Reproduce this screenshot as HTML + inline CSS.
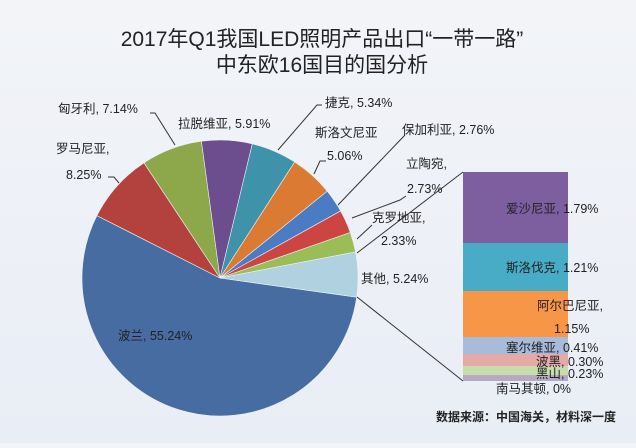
<!DOCTYPE html>
<html><head><meta charset="utf-8"><style>
html,body{margin:0;padding:0}
body{width:636px;height:443px;overflow:hidden;background:linear-gradient(180deg,#f2f4f8,#e9edf5);font-family:"Liberation Sans","Noto Sans CJK SC",sans-serif}
svg text{font-family:"Liberation Sans","Noto Sans CJK SC",sans-serif;fill:#222}
</style></head><body>
<svg id="s" width="636" height="443" xmlns="http://www.w3.org/2000/svg">
<text x="322" y="46" font-size="21" text-anchor="middle">2017年Q1我国LED照明产品出口“一带一路”</text>
<text x="322" y="72" font-size="21" text-anchor="middle">中东欧16国目的国分析</text>
<g id="pie"></g>
<g stroke="#333" stroke-width="1" fill="none">
<polyline points="150,113 155,113 175,145"/>
<polyline points="108,177 114,177 119,183"/>
<polyline points="322,105 317,105 278,150"/>
<polyline points="326,161 320,161 314,174"/>
<polyline points="338,205 405,135"/>
<polyline points="352,218 400,200 406,196"/>
<polyline points="357,239 372,225"/>
<polyline points="357,253 463,172"/>
<polyline points="357,297 463,381"/>
</g>
<rect x="463" y="172" width="105" height="71" fill="#7d5fa0"/>
<rect x="463" y="243" width="105" height="48" fill="#49acc6"/>
<rect x="463" y="291" width="105" height="46" fill="#f79646"/>
<rect x="463" y="337" width="105" height="17" fill="#a8bbda"/>
<rect x="463" y="354" width="105" height="12" fill="#e4aaa8"/>
<rect x="463" y="366" width="105" height="9" fill="#c8dcac"/>
<rect x="463" y="375" width="105" height="6" fill="#b4aac4"/>
<g font-size="12.5">
<text x="58" y="113">匈牙利, 7.14%</text>
<text x="178" y="128">拉脱维亚, 5.91%</text>
<text x="325" y="107">捷克, 5.34%</text>
<text x="315" y="137">斯洛文尼亚</text>
<text x="327" y="160">5.06%</text>
<text x="402" y="134">保加利亚, 2.76%</text>
<text x="406" y="168">立陶宛,</text>
<text x="407" y="193">2.73%</text>
<text x="372" y="222">克罗地亚,</text>
<text x="381" y="245">2.33%</text>
<text x="361" y="283">其他, 5.24%</text>
<text x="56" y="153">罗马尼亚,</text>
<text x="66" y="179">8.25%</text>
<text x="118" y="340">波兰, 55.24%</text>
<text x="506" y="213">爱沙尼亚, 1.79%</text>
<text x="506" y="272">斯洛伐克, 1.21%</text>
<text x="537" y="310">阿尔巴尼亚,</text>
<text x="554" y="333">1.15%</text>
<text x="506" y="352">塞尔维亚, 0.41%</text>
<text x="536" y="366">波黑, 0.30%</text>
<text x="536" y="378">黑山, 0.23%</text>
<text x="496" y="393">南马其顿, 0%</text>
</g>
<text x="436" y="421" font-size="12" font-weight="bold">数据来源：中国海关，材料深一度</text>
</svg>
<script>
var cx=220,cy=278,r=138,a=8;
var d=[[55.24,"#476ca2"],[8.25,"#b3423f"],[7.14,"#8da84b"],[5.91,"#6c4e8e"],[5.34,"#3e93ab"],[5.06,"#da7a33"],[2.76,"#4b7cc3"],[2.73,"#cc4543"],[2.33,"#9bbd57"],[5.24,"#afd1e0"]];
var g=document.getElementById("pie"),h="";
d.forEach(function(s){var b=a+s[0]*3.6;var r1=a*Math.PI/180,r2=b*Math.PI/180;
h+='<path d="M'+cx+','+cy+' L'+(cx+r*Math.cos(r1))+','+(cy+r*Math.sin(r1))+' A'+r+','+r+' 0 '+(b-a>180?1:0)+' 1 '+(cx+r*Math.cos(r2))+','+(cy+r*Math.sin(r2))+' Z" fill="'+s[1]+'" stroke="#eef1f6" stroke-width="0.6"/>';a=b;});
g.innerHTML=h;
</script>
</body></html>
